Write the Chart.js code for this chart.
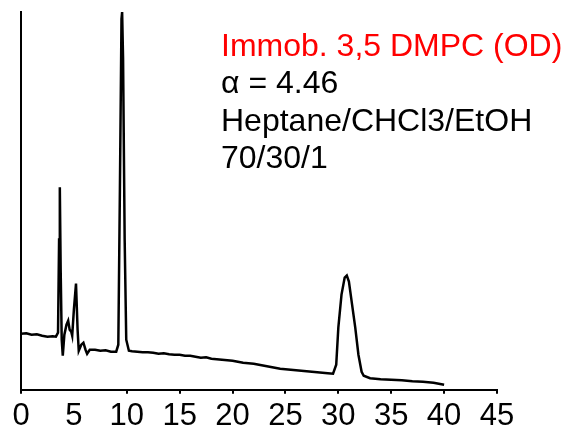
<!DOCTYPE html>
<html>
<head>
<meta charset="utf-8">
<script src="https://cdn.jsdelivr.net/npm/chart.js@4.4.0/dist/chart.umd.min.js"></script>
<style>
  html, body { margin: 0; padding: 0; background: #fff; }
  #wrap { width: 567px; height: 430px; }
</style>
</head>
<body>
<div id="wrap"><canvas id="chrom"></canvas></div>
<script>
// Chromatogram: retention time (min) vs detector signal (arbitrary units)
const times = [
  0, 0.5, 1.0, 1.5, 2.0, 2.5, 3.0, 3.3, 3.5, 3.6, 3.67, 3.75, 3.85, 3.95,
  4.1, 4.3, 4.46, 4.6, 4.75, 4.84, 5.0, 5.2, 5.35, 5.46, 5.7, 5.9, 6.1, 6.25,
  6.5, 7.0, 7.5, 8.0, 8.5, 9.0, 9.2, 9.35, 9.5, 9.56, 9.65, 9.8, 9.95, 10.2,
  10.5, 11, 11.5, 12, 12.5, 13, 13.5, 14, 14.5, 15, 15.5, 16, 16.5, 17, 17.5,
  18, 18.5, 19, 19.5, 20, 20.5, 21, 21.5, 22, 22.5, 23, 23.5, 24, 24.5, 25,
  25.5, 26, 26.5, 27, 27.5, 28, 28.5, 29, 29.5, 29.8, 30.0, 30.3, 30.6, 30.8,
  31.0, 31.3, 31.6, 31.9, 32.2, 32.4, 33, 34, 35, 36, 37, 38, 39, 40
];
const signal = [
  56, 56.5, 55, 55.5, 54, 53, 53.5, 53, 57, 150, 202, 120, 50, 34,
  55, 65, 69, 60, 58, 54, 80, 106, 60, 39, 45, 47, 40, 36,
  40, 40, 39, 39.5, 38, 38, 45, 200, 370, 377, 330, 150, 50, 39,
  38.5, 38, 37.5, 37.5, 37, 36, 36.5, 35.5, 35, 35, 34, 34, 33, 32, 32.5,
  31, 30.5, 30, 29.5, 29, 28, 27, 26.5, 26, 25, 24, 23, 22, 21, 20.5,
  20, 19.5, 19, 18.5, 18, 17.5, 17, 16.5, 16, 25, 62, 95, 112, 114,
  108, 85, 62, 35, 18, 14, 11.5, 10.5, 10, 9.5, 8.5, 8, 7, 5
];
const xTicks = [0, 5, 10, 15, 20, 25, 30, 35, 40, 45];
const notes = ['Immob. 3,5 DMPC (OD)', 'α = 4.46', 'Heptane/CHCl3/EtOH', '70/30/1'];
const noteColors = ['#ff0000', '#000000', '#000000', '#000000'];

const FONT = '"Liberation Sans", Arial, sans-serif';

// annotation text in the upper right
const notesPlugin = {
  id: 'notes',
  afterDraw(chart) {
    const ctx = chart.ctx;
    ctx.save();
    ctx.font = '32px ' + FONT;
    ctx.textAlign = 'left';
    ctx.textBaseline = 'alphabetic';
    notes.forEach((txt, i) => {
      ctx.fillStyle = noteColors[i];
      ctx.fillText(txt, 221, 56 + i * 37.3);
    });
    ctx.restore();
  }
};

new Chart(document.getElementById('chrom'), {
  type: 'line',
  data: {
    datasets: [{
      data: times.map((t, i) => ({ x: t, y: signal[i] })),
      borderColor: '#000',
      borderWidth: 2.5,
      pointRadius: 0,
      tension: 0,
      fill: false
    }]
  },
  options: {
    responsive: true,
    maintainAspectRatio: false,
    animation: false,
    layout: { padding: { left: 13, right: 70, top: 12, bottom: -9 } },
    plugins: { legend: { display: false }, tooltip: { enabled: false } },
    scales: {
      x: {
        type: 'linear',
        min: 0,
        max: 45,
        afterBuildTicks: axis => { axis.ticks = xTicks.map(v => ({ value: v })); },
        ticks: { color: '#000', font: { family: FONT, size: 31 }, padding: 4, maxRotation: 0 },
        grid: {
          drawOnChartArea: false,
          drawTicks: true,
          tickLength: 4,
          lineWidth: 2,
          color: c => (c.tick && c.tick.value === 5 ? 'rgba(0,0,0,0)' : '#000')
        },
        border: { display: true, color: '#000', width: 2 }
      },
      y: {
        min: 0,
        max: 377,
        ticks: { display: false },
        grid: { display: false },
        border: { display: true, color: '#000', width: 2 }
      }
    }
  },
  plugins: [notesPlugin]
});
</script>
</body>
</html>
